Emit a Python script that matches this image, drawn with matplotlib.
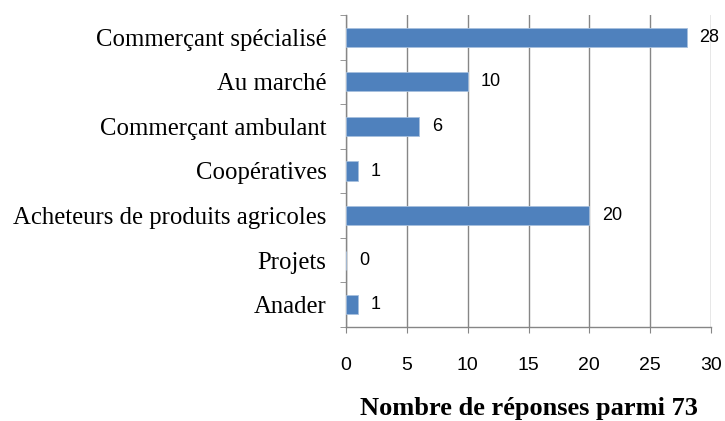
import matplotlib
matplotlib.use("Agg")
import matplotlib.pyplot as plt
import numpy as np

categories = ["Commerçant spécialisé", "Au marché", "Commerçant ambulant",
              "Coopératives", "Acheteurs de produits agricoles", "Projets", "Anader"]
values = [28, 10, 6, 1, 20, 0, 1]
xticks = [0, 5, 10, 15, 20, 25, 30]
xlabel = "Nombre de réponses parmi 73"

fig = plt.figure(figsize=(7.25, 4.21), dpi=100)
ax = fig.add_axes([346/725, 1-327/421, (711-346)/725, (327-15)/421])

n = len(categories)
ypos = np.arange(n)[::-1]
ax.barh(ypos, values, height=0.43, color="#4F81BD", edgecolor="#A7C0DE", linewidth=0.6, zorder=3)
ax.set_ylim(-0.5, n-0.5)
ax.set_xlim(0, 30)

gray = "#868686"
ax.set_xticks(xticks)
ax.set_xticklabels([str(t) for t in xticks], fontfamily="Liberation Sans", fontsize=14)
ax.xaxis.grid(True, color=gray, linewidth=1, zorder=0)
ax.set_yticks(ypos)
ax.set_yticklabels(categories, fontfamily="Liberation Serif", fontsize=17.8)
ax.set_yticks(np.arange(-0.5, n, 1), minor=True)
ax.tick_params(axis="y", which="major", length=0, pad=14)
ax.tick_params(axis="y", which="minor", length=4, color=gray, direction="out")
ax.tick_params(axis="x", which="major", length=4.5, color=gray, direction="out", pad=17)

for s in ["top", "right"]:
    ax.spines[s].set_visible(False)
for s in ["left", "bottom"]:
    ax.spines[s].set_color(gray)
    ax.spines[s].set_linewidth(1)

for y, v in zip(ypos, values):
    ax.text(v + 1.05, y, str(v), va="center", ha="left",
            fontfamily="Liberation Sans", fontsize=13, color="black")

ax.set_xlabel(xlabel, fontfamily="Liberation Serif", fontweight="bold", fontsize=19, labelpad=17)

fig.savefig("out.png", dpi=100)
